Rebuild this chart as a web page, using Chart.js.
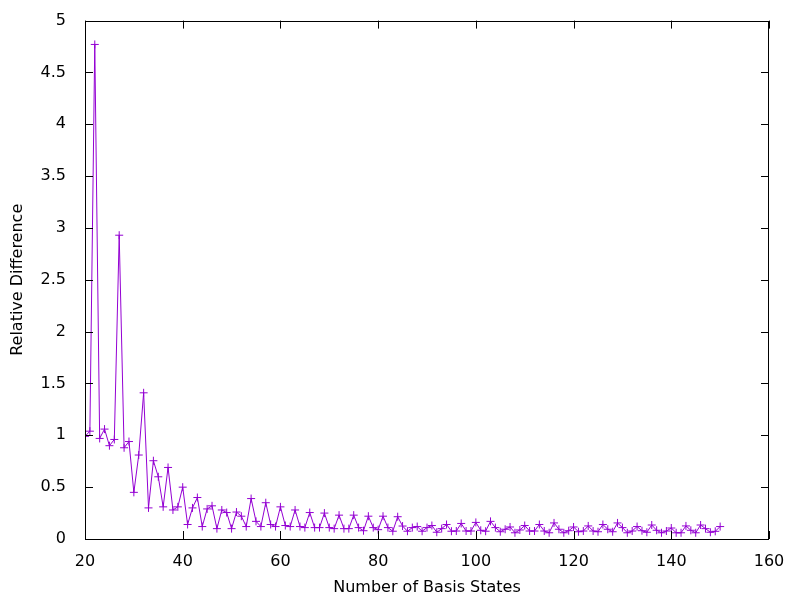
<!DOCTYPE html>
<html>
<head>
<meta charset="utf-8">
<script src="https://cdn.jsdelivr.net/npm/chart.js@4/dist/chart.umd.min.js"></script>
<style>
  html, body { margin: 0; padding: 0; background: #fff; }
  #wrap { width: 800px; height: 600px; }
</style>
</head>
<body>
<div id="wrap"><canvas id="myChart" width="800" height="600"></canvas></div>
<script>
// number of basis states, 20 .. 150
const basisStates = [];
for (let n = 20; n <= 150; n++) basisStates.push(n);

// relative difference
const relDiff = [
  0.99, 1.04, 4.77, 0.97, 1.06, 0.90, 0.96, 2.93, 0.88, 0.94,   // 20-29
  0.45, 0.81, 1.41, 0.30, 0.755, 0.60, 0.31, 0.69, 0.28, 0.31,  // 30-39
  0.50, 0.14, 0.30, 0.40, 0.12, 0.29, 0.32, 0.10, 0.28, 0.255,  // 40-49
  0.10, 0.26, 0.22, 0.12, 0.39, 0.17, 0.12, 0.35, 0.14, 0.12,   // 50-59
  0.31, 0.13, 0.12, 0.28, 0.12, 0.11, 0.255, 0.11, 0.11, 0.25,  // 60-69
  0.11, 0.10, 0.23, 0.10, 0.10, 0.23, 0.11, 0.08, 0.22, 0.11,   // 70-79
  0.09, 0.22, 0.11, 0.075, 0.215, 0.125, 0.075, 0.11, 0.12, 0.075, // 80-89
  0.11, 0.13, 0.065, 0.10, 0.14, 0.075, 0.077, 0.15, 0.077, 0.077, // 90-99
  0.16, 0.084, 0.075, 0.17, 0.11, 0.07, 0.094, 0.116, 0.06, 0.087, // 100-109
  0.13, 0.077, 0.077, 0.14, 0.077, 0.06, 0.155, 0.094, 0.06, 0.08, // 110-119
  0.116, 0.07, 0.077, 0.126, 0.077, 0.07, 0.14, 0.094, 0.07, 0.155, // 120-129
  0.11, 0.06, 0.077, 0.12, 0.08, 0.065, 0.135, 0.084, 0.06, 0.077, // 130-139
  0.106, 0.06, 0.06, 0.126, 0.084, 0.06, 0.135, 0.10, 0.065, 0.074, // 140-149
  0.12                                                             // 150
];

const xTicks = [20, 40, 60, 80, 100, 120, 140, 160];
const yTicks = [0, 0.5, 1, 1.5, 2, 2.5, 3, 3.5, 4, 4.5, 5];

const points = basisStates.map((n, i) => ({ x: n, y: relDiff[i] }));

// gnuplot style box with inward ticks on all four sides
const frame = {
  id: 'frame',
  afterDatasetsDraw(chart) {
    const { ctx, chartArea: a, scales: { x, y } } = chart;
    const len = 8;
    ctx.save();
    ctx.strokeStyle = '#000';
    ctx.lineWidth = 1;
    ctx.beginPath();
    xTicks.forEach(v => {
      const px = Math.round(x.getPixelForValue(v)) + 0.5;
      ctx.moveTo(px, a.bottom); ctx.lineTo(px, a.bottom - len);
      ctx.moveTo(px, a.top); ctx.lineTo(px, a.top + len);
    });
    yTicks.forEach(v => {
      const py = Math.round(y.getPixelForValue(v)) + 0.5;
      ctx.moveTo(a.left, py); ctx.lineTo(a.left + len, py);
      ctx.moveTo(a.right, py); ctx.lineTo(a.right - len, py);
    });
    ctx.stroke();
    ctx.strokeRect(Math.round(a.left) + 0.5, Math.round(a.top) + 0.5,
                   Math.round(a.width) - 1, Math.round(a.height));
    ctx.restore();
  }
};

Chart.defaults.font.family = '"DejaVu Sans", sans-serif';
Chart.defaults.font.size = 16;
Chart.defaults.color = '#000';

new Chart(document.getElementById('myChart'), {
  type: 'scatter',
  data: {
    datasets: [{
      data: points,
      showLine: true,
      borderColor: '#9400d3',
      backgroundColor: '#9400d3',
      borderWidth: 1,
      pointStyle: 'cross',
      pointRadius: 4,
      pointBorderWidth: 1,
      pointHoverRadius: 4
    }]
  },
  options: {
    responsive: false,
    animation: false,
    layout: { padding: { left: 0, top: 19, right: 31, bottom: 0 } },
    plugins: { legend: { display: false }, tooltip: { enabled: false } },
    scales: {
      x: {
        type: 'linear',
        min: 20, max: 160,
        afterFit: s => { s.height = 61; },
        afterBuildTicks: s => { s.ticks = xTicks.map(v => ({ value: v })); },
        grid: { display: false },
        border: { display: false },
        ticks: { padding: 5, maxRotation: 0, autoSkip: false },
        title: { display: true, text: 'Number of Basis States', padding: { top: 0, bottom: 3 } }
      },
      y: {
        min: 0, max: 5,
        afterFit: s => { s.width = 85; },
        afterBuildTicks: s => { s.ticks = yTicks.map(v => ({ value: v })); },
        grid: { display: false },
        border: { display: false },
        ticks: { padding: 11, autoSkip: false, callback: v => String(v) },
        title: { display: true, text: 'Relative Difference', padding: { top: 8, bottom: 0 } }
      }
    }
  },
  plugins: [frame]
});
</script>
</body>
</html>
